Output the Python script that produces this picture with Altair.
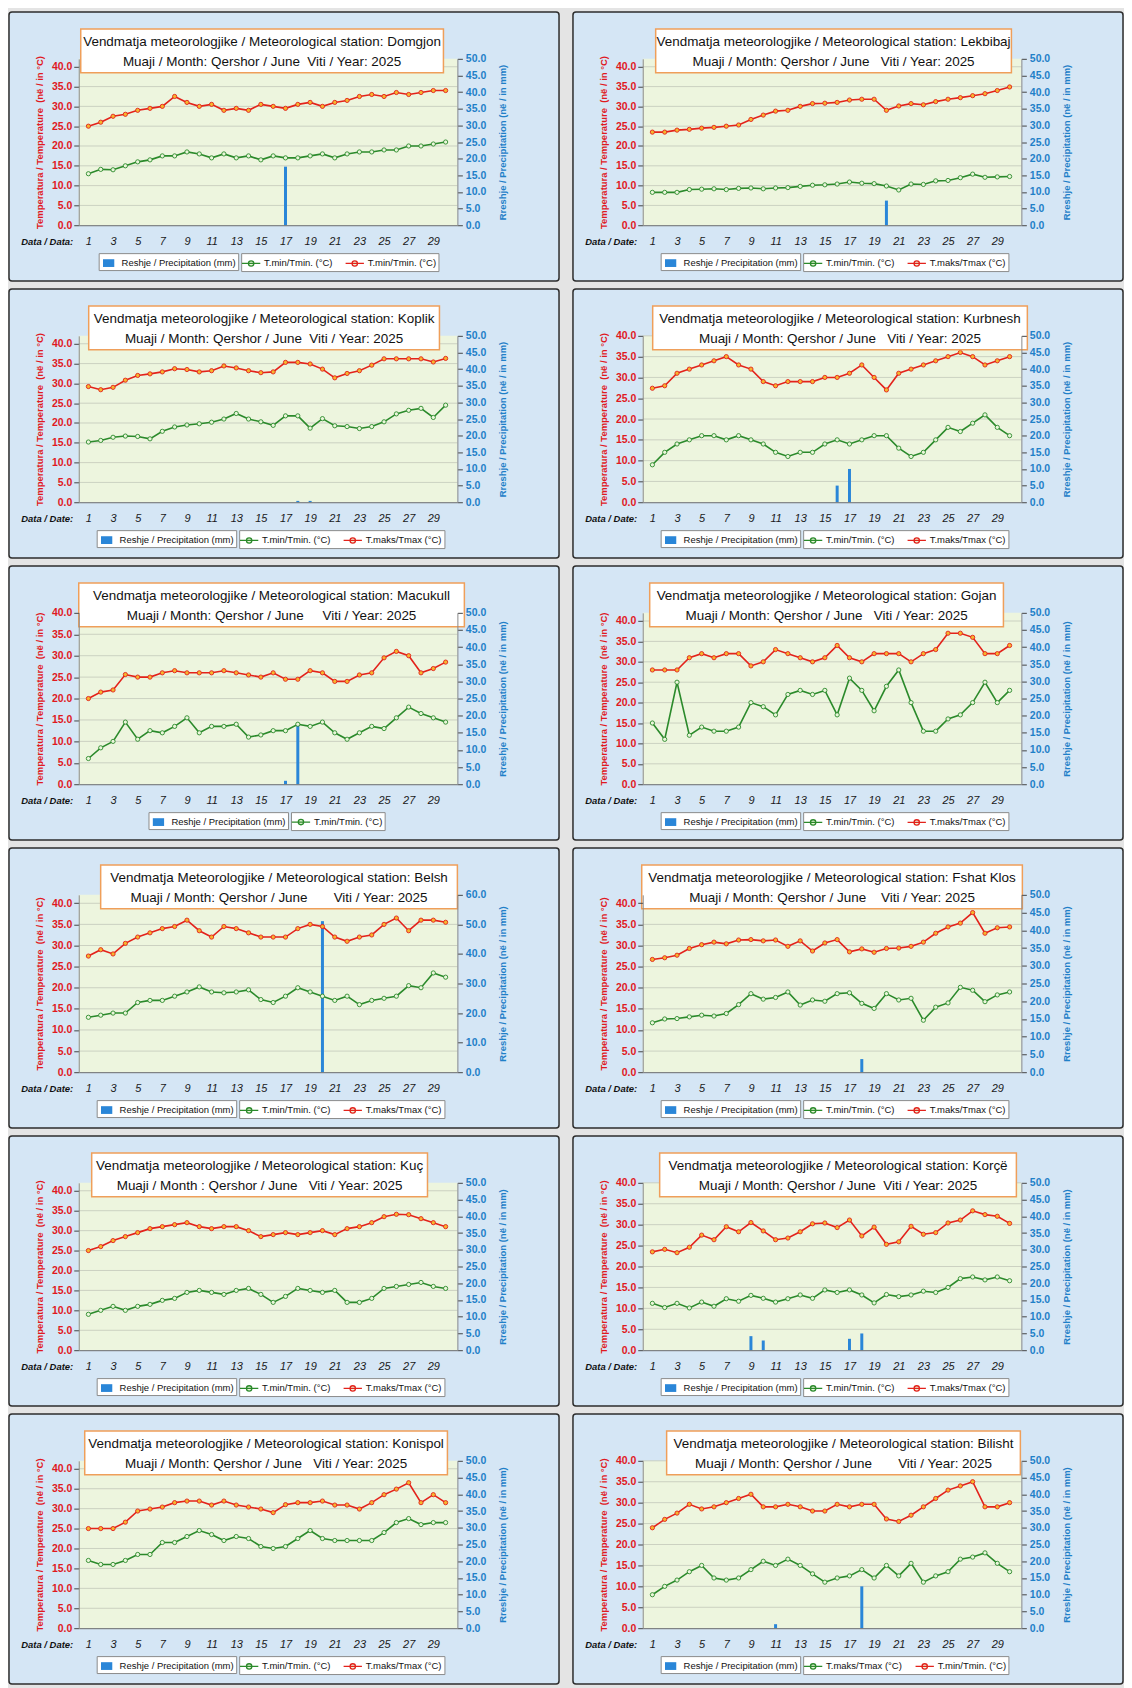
import altair as alt
import pandas as pd

# ---------------- data ----------------
DAYS = list(range(1, 31))
DAY_LABELS = [1, 3, 5, 7, 9, 11, 13, 15, 17, 19, 21, 23, 25, 27, 29]
TEMP_TICKS = [0, 5, 10, 15, 20, 25, 30, 35, 40]
PRECIP_TICKS = [0, 5, 10, 15, 20, 25, 30, 35, 40, 45, 50]
PRECIP_TICKS_60 = [0, 10, 20, 30, 40, 50, 60]

LBL_P = "Reshje / Precipitation (mm)"
LBL_MIN = "T.min/Tmin. (°C)"
LBL_MAX = "T.maks/Tmax (°C)"

DOMGJON_TMAX = [25, 26, 27.5, 28, 29, 29.5, 30, 32.5, 31, 30, 30.5, 29, 29.5, 29, 30.5, 30, 29.5, 30.5, 31, 30, 31, 31.5, 32.5, 33, 32.5, 33.5, 33, 33.5, 34, 34]
DOMGJON_TMIN = [13, 14.1, 14, 15, 16, 16.5, 17.5, 17.5, 18.5, 18, 17, 18, 17, 17.5, 16.5, 17.5, 17, 17, 17.5, 18, 17, 18, 18.5, 18.5, 19, 19, 20, 20, 20.5, 21]
DOMGJON_PRECIP = [0, 0, 0, 0, 0, 0, 0, 0, 0, 0, 0, 0, 0, 0, 0, 0, 17.6, 0, 0, 0, 0, 0, 0, 0, 0, 0, 0, 0, 0, 0]

LEKBIBAJ_TMAX = [23.5, 23.5, 24.0, 24.2, 24.5, 24.7, 25.0, 25.3, 26.7, 27.8, 28.8, 29.0, 30.0, 30.7, 30.8, 31.0, 31.6, 31.8, 31.8, 29.0, 30.1, 30.7, 30.4, 31.2, 31.8, 32.2, 32.7, 33.2, 34.0, 34.9]
LEKBIBAJ_TMIN = [8.3, 8.3, 8.3, 9.0, 9.1, 9.2, 9.0, 9.3, 9.4, 9.2, 9.4, 9.5, 9.8, 10.1, 10.2, 10.4, 10.9, 10.6, 10.5, 9.9, 8.9, 10.4, 10.3, 11.2, 11.3, 12.0, 12.9, 12.1, 12.2, 12.3]
LEKBIBAJ_PRECIP = [0, 0, 0, 0, 0, 0, 0, 0, 0, 0, 0, 0, 0, 0, 0, 0, 0, 0, 0, 7.4, 0, 0, 0, 0, 0, 0, 0, 0, 0, 0]

KOPLIK_TMAX = [29.2, 28.4, 29.0, 30.8, 32.0, 32.4, 32.9, 33.7, 33.5, 32.9, 33.2, 34.4, 33.9, 33.2, 32.7, 32.9, 35.3, 35.3, 34.9, 33.6, 31.4, 32.5, 33.2, 34.6, 36.2, 36.2, 36.2, 36.2, 35.4, 36.3]
KOPLIK_TMIN = [15.2, 15.6, 16.4, 16.7, 16.6, 16.0, 17.9, 19.0, 19.5, 19.8, 20.2, 21.0, 22.4, 21.0, 20.3, 19.4, 21.8, 21.8, 18.7, 21.1, 19.3, 19.1, 18.6, 19.1, 20.3, 22.3, 23.2, 23.7, 21.4, 24.5]
KOPLIK_PRECIP = [0, 0, 0, 0, 0, 0, 0, 0, 0, 0, 0, 0, 0, 0, 0, 0, 0, 0.4, 0.4, 0, 0, 0, 0, 0, 0, 0, 0, 0, 0, 0]

KURBNESH_TMAX = [27.4, 28, 31, 32, 33, 34, 35, 33, 32, 29, 28, 29, 29, 29, 30, 30, 31, 33, 30, 27, 31, 32, 33, 34, 35, 36, 35, 33, 34, 35]
KURBNESH_TMIN = [9, 12, 14, 15, 16, 16, 15, 16, 15, 14, 12, 11, 12, 12, 14, 15, 14, 15, 16, 16, 13, 11, 12, 15, 18, 17, 19, 21, 18, 16]
KURBNESH_PRECIP = [0, 0, 0, 0, 0, 0, 0, 0, 0, 0, 0, 0, 0, 0, 0, 5.0, 10.0, 0, 0, 0, 0, 0, 0, 0, 0, 0, 0, 0, 0, 0]

MACUKULL_TMAX = [20, 21.5, 22, 25.6, 25, 25, 26, 26.5, 26, 26, 26, 26.5, 26, 25.5, 25, 26, 24.5, 24.5, 26.5, 26, 24, 24, 25.5, 26, 29.5, 31, 30, 26, 27, 28.5]
MACUKULL_TMIN = [6, 8.5, 10, 14.5, 10.5, 12.5, 12, 13.5, 15.5, 12, 13.5, 13.5, 14, 11, 11.5, 12.5, 12.5, 14, 13.5, 14.5, 12, 10.5, 12, 13.5, 13, 15.5, 18, 16.5, 15.5, 14.5]
MACUKULL_PRECIP = [0, 0, 0, 0, 0, 0, 0, 0, 0, 0, 0, 0, 0, 0, 0, 0, 1.0, 17.6, 0, 0, 0, 0, 0, 0, 0, 0, 0, 0, 0, 0]

GOJAN_TMAX = [28, 28, 28, 31, 32, 31, 32, 32, 29, 30, 33, 32, 31, 30, 31, 34, 31, 30, 32, 32, 32, 30, 32, 33, 37, 37, 36, 32, 32, 34]
GOJAN_TMIN = [15, 11, 25, 12, 14, 13, 13, 14, 20, 19, 17, 22, 23, 22, 23, 17, 26, 23, 18, 24, 28, 20, 13, 13, 16, 17, 20, 25, 20, 23]
GOJAN_PRECIP = [0, 0, 0, 0, 0, 0, 0, 0, 0, 0, 0, 0, 0, 0, 0, 0, 0, 0, 0, 0, 0, 0, 0, 0, 0, 0, 0, 0, 0, 0]

BELSH_TMAX = [27.5, 29, 28, 30.5, 32, 33, 34, 34.5, 36, 33.5, 32, 34.5, 34, 33, 32, 32, 32, 34, 35, 34.5, 32, 31, 32, 32.5, 35, 36.5, 33.5, 36, 36, 35.5]
BELSH_TMIN = [13, 13.5, 14, 14, 16.5, 17, 17, 18, 19, 20.2, 19, 18.8, 19, 19.5, 17.2, 16.5, 18, 20, 19, 18, 17, 18, 16, 17, 17.5, 18, 20.5, 20, 23.5, 22.5]
BELSH_PRECIP = [0, 0, 0, 0, 0, 0, 0, 0, 0, 0, 0, 0, 0, 0, 0, 0, 0, 0, 0, 51.1, 0, 0, 0, 0, 0, 0, 0, 0, 0, 0]

FSHATKLOS_TMAX = [26.7, 27.1, 27.7, 29.3, 30.2, 30.8, 30.4, 31.3, 31.4, 31.1, 31.3, 29.8, 31.1, 28.7, 30.6, 31.4, 28.5, 29.2, 28.4, 29.3, 29.4, 29.8, 30.8, 32.9, 34.4, 35.3, 37.8, 32.9, 34.2, 34.4]
FSHATKLOS_TMIN = [11.7, 12.6, 12.7, 13.1, 13.5, 13.3, 13.9, 16.0, 18.6, 17.3, 17.7, 19.0, 15.9, 17.1, 16.8, 18.6, 18.8, 16.3, 15.1, 18.6, 17.1, 17.5, 12.3, 15.4, 16.4, 20.1, 19.4, 16.7, 18.3, 19.0]
FSHATKLOS_PRECIP = [0, 0, 0, 0, 0, 0, 0, 0, 0, 0, 0, 0, 0, 0, 0, 0, 0, 3.7, 0, 0, 0, 0, 0, 0, 0, 0, 0, 0, 0, 0]

KUC_TMAX = [25, 26, 27.5, 28.5, 29.5, 30.5, 31, 31.5, 32, 31, 30.5, 31, 31, 30, 28.5, 29, 29.5, 29, 29.5, 30, 29, 30.5, 31, 32, 33.5, 34.1, 34, 33, 32, 31]
KUC_TMIN = [9, 10, 11, 10, 11, 11.5, 12.5, 13, 14.5, 15, 14.5, 14, 15, 15.5, 14, 12, 13.5, 15.5, 15, 14.5, 15, 12, 12, 13, 15.5, 16, 16.5, 17, 16, 15.5]
KUC_PRECIP = [0, 0, 0, 0, 0, 0, 0, 0, 0, 0, 0, 0, 0, 0, 0, 0, 0, 0, 0, 0, 0, 0, 0, 0, 0, 0, 0, 0, 0, 0]

KORCE_TMAX = [23.5, 24.1, 23.3, 24.6, 27.5, 26.4, 29.5, 28.3, 30.5, 28.5, 26.4, 26.8, 28.3, 30.2, 30.4, 29.3, 31.1, 27.3, 29.4, 25.3, 25.9, 29.6, 27.7, 28.1, 30.4, 31.1, 33.3, 32.4, 32.0, 30.3]
KORCE_TMIN = [11.2, 10.2, 11.2, 10.1, 11.5, 10.5, 12.3, 11.7, 13.1, 12.4, 11.5, 12.3, 13.2, 12.4, 14.4, 13.8, 14.4, 13.2, 11.3, 13.3, 12.8, 13.2, 14.1, 13.8, 15.0, 17.1, 17.5, 16.8, 17.5, 16.6]
KORCE_PRECIP = [0, 0, 0, 0, 0, 0, 0, 0, 4.2, 2.9, 0, 0, 0, 0, 0, 0, 3.4, 5.0, 0, 0, 0, 0, 0, 0, 0, 0, 0, 0, 0, 0]

KONISPOL_TMAX = [25, 25, 25, 26.6, 29.4, 29.9, 30.4, 31.5, 31.9, 31.9, 30.9, 31.9, 30.9, 30.4, 29.9, 29, 31, 31.5, 31.5, 31.9, 30.9, 30.9, 29.9, 31.5, 33.5, 34.9, 36.5, 31.5, 33.5, 31.5]
KONISPOL_TMIN = [17, 16, 16, 17, 18.5, 18.5, 21.5, 21.5, 23, 24.5, 23.5, 22, 23, 22.5, 20.5, 20, 20.5, 22.5, 24.5, 22.5, 22, 22, 22, 22, 24, 26.5, 27.5, 26, 26.5, 26.5]
KONISPOL_PRECIP = [0, 0, 0, 0, 0, 0, 0, 0, 0, 0, 0, 0, 0, 0, 0, 0, 0, 0, 0, 0, 0, 0, 0, 0, 0, 0, 0, 0, 0, 0]

BILISHT_TMAX = [24, 26, 27.5, 29.6, 28.5, 29, 30, 31, 32, 29, 29, 29.6, 29, 28, 28, 29.6, 29, 29.6, 29.6, 26.1, 25.5, 27, 29, 31, 33, 34, 35, 29, 29, 30]
BILISHT_TMIN = [8, 10, 11.5, 13.5, 15, 12, 11.5, 12, 14, 16, 15, 16.5, 15, 13, 11, 12, 12.5, 14, 12, 15, 12.5, 15.5, 11, 12.5, 13.5, 16.5, 17, 18, 15.5, 13.5]
BILISHT_PRECIP = [0, 0, 0, 0, 0, 0, 0, 0, 0, 0, 1.2, 0, 0, 0, 0, 0, 0, 12.5, 0, 0, 0, 0, 0, 0, 0, 0, 0, 0, 0, 0]

# ---------------- styles ----------------
FONT = "Liberation Sans, Arial, Helvetica, sans-serif"
RED = "#e3221b"
GREEN = "#2b8a2b"
BLUE = "#2a86d8"
RED_TXT = "#e0191f"
BLUE_TXT = "#1f80c8"
HI_FILL = "#f6b52e"
LO_FILL = "#eaf6da"
PANEL_FILL = "#d5e6f5"
PLOT_FILL = "#edf5de"
BG = "#e4e4e4"
PLOT_W = 380
ROW_H = [167, 167, 172, 178, 168, 168]
NB = "\u00a0"
RECT_SYMBOL = "M-0.8,-0.55H0.8V0.55H-0.8Z"
LINE_SYMBOL = "M-1.3,0H1.3M0.38,0A0.38,0.38,0,1,1,-0.38,0A0.38,0.38,0,1,1,0.38,0Z"
LEG_FONT_SIZE = 9.5
LEG_A_WIDTH = 144  # width of the precipitation legend box


def gap(n):
    return " " + NB * (n - 1)


def month_line(sep, n):
    return "Muaji / Month" + sep + "Qershor / June" + gap(n) + "Viti / Year: 2025"


T1 = "Vendmatja meteorologjike / Meteorological station: "

STATIONS = [
    dict(t1=T1 + "Domgjon", t2=month_line(": ", 2), tmax=DOMGJON_TMAX, tmin=DOMGJON_TMIN, precip=DOMGJON_PRECIP,
         low=LBL_MIN, high=LBL_MIN + NB, date="Data / Data:", box=(2, 366), tdom=42, pdom=50, lx=20),
    dict(t1=T1 + "Lekbibaj", t2=month_line(": ", 3), tmax=LEKBIBAJ_TMAX, tmin=LEKBIBAJ_TMIN, precip=LEKBIBAJ_PRECIP,
         low=LBL_MIN, high=LBL_MAX, date="Data / Date:", box=(13, 370), tdom=42, pdom=50, lx=18),
    dict(t1=T1 + "Koplik", t2=month_line(": ", 2), tmax=KOPLIK_TMAX, tmin=KOPLIK_TMIN, precip=KOPLIK_PRECIP,
         low=LBL_MIN, high=LBL_MAX, date="Data / Date:", box=(10, 362), tdom=42, pdom=50, lx=18),
    dict(t1=T1 + "Kurbnesh", t2=month_line(": ", 3), tmax=KURBNESH_TMAX, tmin=KURBNESH_TMIN, precip=KURBNESH_PRECIP,
         low=LBL_MIN, high=LBL_MAX, date="Data / Date:", box=(10, 386), tdom=40, pdom=50, lx=18),
    dict(t1=T1 + "Macukull", t2=month_line(": ", 5), tmax=MACUKULL_TMAX, tmin=MACUKULL_TMIN, precip=MACUKULL_PRECIP,
         low=LBL_MIN, high=None, date="Data / Date:", box=(0, 387), tdom=40, pdom=50, lx=70),
    dict(t1=T1 + "Gojan", t2=month_line(": ", 3), tmax=GOJAN_TMAX, tmin=GOJAN_TMIN, precip=GOJAN_PRECIP,
         low=LBL_MIN, high=LBL_MAX, date="Data / Date:", box=(7, 362), tdom=42, pdom=50, lx=18),
    dict(t1="Vendmatja Meteorologjike / Meteorological station: Belsh", t2=month_line(": ", 7), tmax=BELSH_TMAX,
         tmin=BELSH_TMIN, precip=BELSH_PRECIP, low=LBL_MIN, high=LBL_MAX, date="Data / Date:", box=(22, 380),
         tdom=42, pdom=60, lx=18),
    dict(t1=T1 + "Fshat Klos", t2=month_line(": ", 4), tmax=FSHATKLOS_TMAX, tmin=FSHATKLOS_TMIN,
         precip=FSHATKLOS_PRECIP, low=LBL_MIN, high=LBL_MAX, date="Data / Date:", box=(-1, 381), tdom=42, pdom=50,
         lx=18),
    dict(t1=T1 + "Kuç", t2=month_line(" : ", 3), tmax=KUC_TMAX, tmin=KUC_TMIN, precip=KUC_PRECIP,
         low=LBL_MIN, high=LBL_MAX, date="Data / Date:", box=(13, 350), tdom=42, pdom=50, lx=18),
    dict(t1=T1 + "Korçë", t2=month_line(": ", 2), tmax=KORCE_TMAX, tmin=KORCE_TMIN, precip=KORCE_PRECIP,
         low=LBL_MIN, high=LBL_MAX, date="Data / Date:", box=(17, 375), tdom=40, pdom=50, lx=18),
    dict(t1=T1 + "Konispol", t2=month_line(": ", 3), tmax=KONISPOL_TMAX, tmin=KONISPOL_TMIN,
         precip=KONISPOL_PRECIP, low=LBL_MIN, high=LBL_MAX, date="Data / Date:", box=(6, 370), tdom=42, pdom=50,
         lx=18),
    dict(t1=T1 + "Bilisht", t2=month_line(": ", 7), tmax=BILISHT_TMAX, tmin=BILISHT_TMIN, precip=BILISHT_PRECIP,
         low=LBL_MAX, high=LBL_MIN, date="Data / Date:", box=(24, 379), tdom=40, pdom=50, lx=18),
]


def legend_common(x, y):
    return dict(orient="none", legendX=x, legendY=y, direction="horizontal", title=None,
                fillColor="white", strokeColor="#8c8c8c", padding=2, labelFont=FONT,
                labelFontSize=LEG_FONT_SIZE, labelColor="#111111", symbolSize=200, symbolStrokeWidth=1.3,
                columnPadding=10, labelOffset=5, symbolOpacity=1)


def build_panel(st, h):
    W = PLOT_W
    temp_labels = [st["low"]] + ([st["high"]] if st["high"] else [])
    temp_colors = [GREEN, RED][:len(temp_labels)]
    pscale = alt.Scale(domain=[LBL_P], range=[BLUE])
    sscale = alt.Scale(domain=temp_labels, range=temp_colors)
    leg_y = h + 28
    leg_p = alt.Legend(symbolType=RECT_SYMBOL, **legend_common(st["lx"], leg_y))
    leg_t = alt.Legend(symbolType=LINE_SYMBOL, symbolFillColor="#ffffff",
                       **legend_common(st["lx"] + LEG_A_WIDTH - 1, leg_y))
    one = pd.DataFrame({"k": [0]})

    x_axis = alt.Axis(values=DAY_LABELS, format="d", title=st["date"], labelFont=FONT, labelFontSize=11,
                      labelFontStyle="italic", labelColor="#1a1a1a", labelPadding=10, ticks=False, grid=False,
                      domainColor="#6b6b6b", labelFlush=False, titleFont=FONT, titleFontSize=9.5,
                      titleFontStyle="italic", titleFontWeight="bold", titleColor="#111111", titleX=-6,
                      titleY=16, titleAlign="right", titleBaseline="middle", zindex=1)
    xenc = alt.X("day:Q", scale=alt.Scale(domain=[0.62, 30.55], nice=False, zero=False), axis=x_axis)

    t_scale = alt.Scale(domain=[0, st["tdom"]], nice=False)
    left_axis = alt.Axis(orient="left", values=TEMP_TICKS, format=".1f",
                         title="Temperatura / Temperature" + NB + " (në / in °C)", labelFont=FONT,
                         labelFontSize=10.5, labelFontWeight="bold", labelColor=RED_TXT, tickColor="#444444",
                         tickSize=5, domainColor="#8a8a8a", grid=False, titleFont=FONT, titleFontSize=9.5,
                         titleFontWeight="bold", titleColor=RED_TXT, titlePadding=7, labelPadding=2, zindex=1)
    pticks = PRECIP_TICKS_60 if st["pdom"] == 60 else PRECIP_TICKS
    right_axis = alt.Axis(orient="right", values=pticks, format=".1f",
                          title="Rreshje / Precipitation (në / in mm)", labelFont=FONT, labelFontSize=10.5,
                          labelFontWeight="bold", labelColor=BLUE_TXT, tickColor="#444444", tickSize=5,
                          domainColor="#8a8a8a", grid=False, titleFont=FONT, titleFontSize=9.5,
                          titleFontWeight="bold", titleColor=BLUE_TXT, titlePadding=12, labelPadding=3,
                          titleAngle=270, titleBaseline="top", zindex=1)

    frame = alt.Chart(one).mark_rect(fill=PANEL_FILL, stroke="#2d2d2d", strokeWidth=1.5, cornerRadius=3).encode(
        x=alt.value(-70), x2=alt.value(W + 102), y=alt.value(-47), y2=alt.value(h + 56))
    plotbg = alt.Chart(one).mark_rect(fill=PLOT_FILL).encode(
        x=alt.value(0), x2=alt.value(W), y=alt.value(0), y2=alt.value(h))
    grid = alt.Chart(pd.DataFrame({"t": TEMP_TICKS[1:]})).mark_rule(color="#c3c8ba", strokeWidth=0.8).encode(
        y=alt.Y("t:Q", scale=t_scale, axis=None))
    bg = alt.layer(frame, plotbg, grid)

    pdf = pd.DataFrame({"day": DAYS, "p": st["precip"], "s": LBL_P})
    bars = alt.Chart(pdf).mark_bar(size=3).encode(
        x=xenc,
        y=alt.Y("p:Q", scale=alt.Scale(domain=[0, st["pdom"]], nice=False), axis=right_axis),
        color=alt.Color("s:N", scale=pscale, legend=leg_p))

    ldf = pd.DataFrame({"day": DAYS, "v": st["tmin"], "s": st["low"]})
    hdf = pd.DataFrame({"day": DAYS, "v": st["tmax"], "s": st["high"] if st["high"] else "hi"})
    yenc = alt.Y("v:Q", scale=t_scale, axis=left_axis)
    lo_stroke = alt.Stroke("s:N", scale=sscale, legend=leg_t)
    if st["high"]:
        hi_stroke = alt.Stroke("s:N", scale=sscale, legend=leg_t)
    else:
        hi_stroke = alt.value(RED)
    lo_line = alt.Chart(ldf).mark_line(strokeWidth=1.6).encode(x=xenc, y=yenc, stroke=lo_stroke)
    lo_pts = alt.Chart(ldf).mark_point(shape="circle", size=18, fill=LO_FILL, fillOpacity=1, opacity=1,
                                       strokeWidth=0.9).encode(x=xenc, y=yenc, stroke=lo_stroke)
    hi_line = alt.Chart(hdf).mark_line(strokeWidth=1.6).encode(x=xenc, y=yenc, stroke=hi_stroke)
    hi_pts = alt.Chart(hdf).mark_point(shape="circle", size=18, fill=HI_FILL, fillOpacity=1, opacity=1,
                                       strokeWidth=0.9).encode(x=xenc, y=yenc, stroke=hi_stroke)
    lines = alt.layer(lo_line, lo_pts, hi_line, hi_pts)

    bx0, bx1 = st["box"]
    cx = (bx0 + bx1) / 2
    box = alt.Chart(one).mark_rect(fill="white", stroke="#ef9f5a", strokeWidth=1.5).encode(
        x=alt.value(bx0), x2=alt.value(bx1), y=alt.value(-30), y2=alt.value(14))
    t1 = alt.Chart(one).mark_text(font=FONT, fontSize=13.5, color="#111111", align="center",
                                  baseline="middle").encode(x=alt.value(cx), y=alt.value(-17),
                                                            text=alt.value(st["t1"]))
    t2 = alt.Chart(one).mark_text(font=FONT, fontSize=13.5, color="#111111", align="center",
                                  baseline="middle").encode(x=alt.value(cx), y=alt.value(3),
                                                            text=alt.value(st["t2"]))
    deco = alt.layer(box, t1, t2)

    return alt.layer(bg, bars, lines, deco).resolve_scale(y="independent").properties(width=W, height=h)


rows = []
for r in range(6):
    h = ROW_H[r]
    a = build_panel(STATIONS[2 * r], h)
    b = build_panel(STATIONS[2 * r + 1], h)
    rows.append(alt.hconcat(a, b, spacing=12)
                .resolve_scale(color="independent", stroke="independent")
                .resolve_legend(color="independent", stroke="independent"))

chart = (alt.vconcat(*rows, spacing=6)
         .resolve_scale(color="independent", stroke="independent")
         .resolve_legend(color="independent", stroke="independent")
         .properties(padding=0, background=BG)
         .configure_view(stroke=None))

chart.save("out.html", embed_options={"renderer": "svg", "actions": False})
